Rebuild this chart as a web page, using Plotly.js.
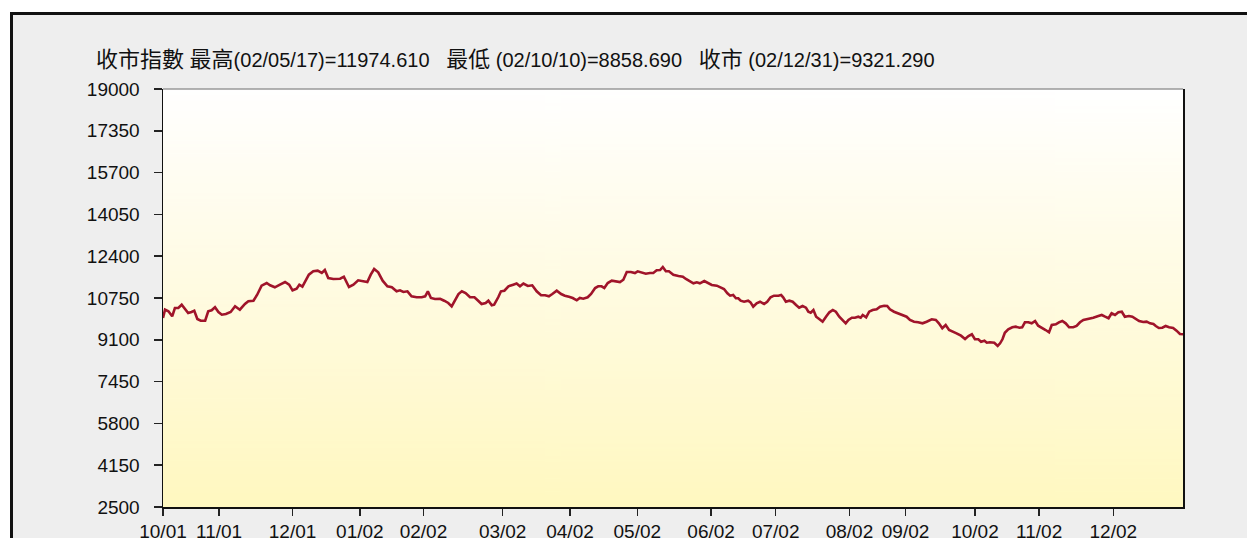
<!DOCTYPE html>
<html>
<head>
<meta charset="utf-8">
<script src="https://cdn.plot.ly/plotly-3.0.1.min.js"></script>
<style>
body{margin:0;background:#fff;overflow:hidden;}
#frame{position:absolute;left:10px;top:12px;width:1400px;height:700px;background:#eeeeee;border-left:3px solid #111;border-top:3px solid #111;}
#chart{position:absolute;left:0;top:0;width:1247px;height:538px;}
</style>
</head>
<body>
<div id="frame"></div>
<div id="chart"></div>
<script>

/* HSI daily close, trading day position vs index level */

const day = [0,0.6,1.6,2.7,3.5,4.5,5.5,6.5,7.4,8.4,9.2,10.1,11.1,12.4,13.3,14.3,15.3,16.3,17.3,18.5,
19.9,21.2,22.6,24.1,25.1,26.6,27.7,29.0,30.5,31.5,32.9,34.4,35.9,37.1,38.1,39.3,40.1,41.0,42.0,42.9,
44.2,45.5,46.7,47.6,48.6,50.1,52.1,53.2,54.7,56.0,57.4,58.9,60.1,61.1,62.1,63.3,64.6,66.0,67.3,68.7,
69.7,70.7,71.9,73.1,74.6,
76.1,77.1,77.9,78.8,80.0,81.5,82.7,83.9,84.9,85.9,86.9,87.9,89.0,90.3,91.6,92.7,93.7,94.9,95.7,96.7,
97.4,98.6,99.4,100.4,101.6,103.0,104.0,105.0,106.0,107.3,108.6,109.9,111.2,112.4,113.5,114.5,115.8,117.1,118.2,119.4,
120.5,121.7,122.6,123.6,124.9,125.9,127.1,128.0,129.0,129.8,130.8,132.0,133.4,134.4,135.4,136.4,137.6,138.8,139.6,140.8,
142.0,143.2,144.2,145.2,146.2,147.0,147.9,148.8,150.1,
151.6,152.9,153.8,155.0,156.0,157.0,157.9,159.2,160.4,161.4,162.9,164.1,165.0,166.0,166.8,167.7,168.5,169.2,169.9,170.9,
172.1,172.8,173.6,174.6,175.6,176.8,177.7,178.7,179.7,181.0,181.8,182.4,183.2,184.2,185.2,186.2,187.1,188.1,189.1,189.8,
190.5,191.3,192.1,193.0,194.0,195.0,196.0,197.0,197.9,198.9,199.9,200.8,201.6,202.6,203.5,204.5,205.2,205.8,206.8,207.7,
208.7,209.9,210.9,212.1,213.0,213.8,215.0,216.3,217.6,218.7,219.7,220.9,222.1,223.4,224.6,
225.1,226.1,227.3,228.2,229.2,230.2,231.2,232.1,233.4,234.7,235.9,236.9,237.9,238.8,239.8,240.6,241.6,242.3,243.2,244.5,
245.5,246.2,246.9,247.6,248.6,249.8,250.8,251.9,252.7,253.5,254.5,255.5,256.5,257.4,258.6,259.6,260.6,261.4,262.6,263.5,
264.5,265.5,266.5,267.7,268.7,269.7,270.7,272.1,273.6,275.1,276.1,277.1,278.1,279.0,280.0,281.0,282.0,282.9,284.1,285.1,
286.1,287.1,288.3,289.3,290.3,291.3,292.0,292.9,293.9,294.9,295.9,297.1,298.1,299.1,300]

const close = [9960,10288,10225,10028,10355,10355,10485,10328,10158,10197,10249,9921,9854,9854,10225,10264,10383,10197,10091,10118,
10197,10422,10288,10513,10620,10643,10880,11236,11342,11251,11172,11275,11381,11275,11054,11117,11275,11196,11433,11670,
11804,11828,11737,11855,11539,11500,11512,11591,11184,11275,11448,11409,11381,11670,11895,11764,11433,11212,11172,11014,
11054,10987,11014,10817,10778,
10778,10817,11014,10750,10710,10722,10643,10553,10422,10643,10908,11014,10947,10778,10778,10643,10513,10553,10643,10462,
10485,10778,11014,11038,11212,11275,11322,11212,11322,11224,11251,11014,10857,10857,10817,10908,11038,10908,10841,10801,
10750,10659,10750,10722,10778,10908,11145,11212,11212,11145,11342,11433,11409,11381,11472,11776,11776,11737,11804,11764,
11709,11737,11737,11843,11855,11974.61,11804,11804,11670,
11618,11591,11500,11393,11330,11369,11330,11421,11330,11263,11236,11156,11105,10935,10841,10868,10738,10738,10643,10604,
10643,10580,10407,10541,10604,10513,10604,10778,10841,10841,10868,10778,10604,10643,10604,10474,10367,10434,10367,10209,
10170,10276,10012,9921,9815,10012,10185,10276,10209,10012,9854,9751,9882,9972,9972,10012,9972,10079,9988,10209,
10276,10304,10407,10446,10434,10304,10209,10146,10079,10012,9882,9815,9791,9751,9815,
9854,9909,9882,9751,9554,9684,9487,9420,9356,9262,9132,9250,9317,9120,9120,9025,9065,8986,9001,8986,
8858.69,8962,9120,9380,9514,9593,9617,9578,9593,9791,9791,9751,9842,9657,9578,9487,9396,9684,9712,9791,
9842,9751,9593,9593,9645,9791,9882,9921,9972,10039,10079,10012,9949,10146,10079,10185,10209,10012,10039,10012,
9909,9842,9803,9815,9751,9724,9645,9566,9578,9645,9593,9566,9460,9329,9321.29]

const tickDay = [0,16.5,38.1,57.9,76.6,99.9,119.7,139.5,161.2,180.2,201.9,218.4,238.8,257.7,279.5]
const tickText = ["10/01","11/01","12/01","01/02","02/02","03/02","04/02","05/02","06/02","07/02","08/02","09/02","10/02","11/02","12/02"]

/* title: chinese words drawn a bit larger than the digits, like the original */

function cjk(s){ return "<span style='font-size:22px'>"+s+"</span>" }

const titleText =
cjk("收市指數")+" "+cjk("最高")+"(02/05/17)=11974.610\u00a0\u00a0\u00a0"+
cjk("最低")+" (02/10/10)=8858.690\u00a0\u00a0\u00a0"+
cjk("收市")+" (02/12/31)=9321.290"

/* plot background gradient (white -> pale yellow) */

function gradientURL(){
let c = document.createElement("canvas")
c.width = 4
c.height = 256
let g = c.getContext("2d")
let grd = g.createLinearGradient(0,0,0,256)
grd.addColorStop(0,"#ffffff")
grd.addColorStop(0.5,"#fffbe0")
grd.addColorStop(1,"#fff8c0")
g.fillStyle = grd
g.fillRect(0,0,4,256)
return c.toDataURL()
}

const font = "'Liberation Sans', Arial, 'Noto Sans CJK TC', sans-serif"

Plotly.newPlot("chart",[{
x:day,
y:close,
type:"scatter",
mode:"lines",
line:{color:"#a0142a",width:2.6},
hoverinfo:"y"
}],{
width:1247,
height:538,
margin:{l:163,r:64,t:89,b:31},
paper_bgcolor:"rgba(0,0,0,0)",
plot_bgcolor:"rgba(0,0,0,0)",
showlegend:false,
font:{family:font,size:19,color:"#111"},
title:{
text:titleText,
font:{family:font,size:20,color:"#111"},
xref:"container",yref:"container",
x:0.077,xanchor:"left",
y:0.888,yanchor:"middle"
},
xaxis:{
range:[0,300],
tickmode:"array",
tickvals:tickDay,
ticktext:tickText,
ticks:"outside",
ticklen:7,
tickwidth:1.5,
tickcolor:"#222",
showgrid:false,
zeroline:false,
showline:true,
linecolor:"#111",
linewidth:1.5
},
yaxis:{
range:[2500,19000],
tick0:2500,
dtick:1650,
tickformat:"d",
ticks:"outside",
ticklen:8,
tickwidth:1.5,
tickcolor:"#222",
ticklabelstandoff:10,
showgrid:false,
zeroline:false,
showline:true,
mirror:true,
linecolor:"#111",
linewidth:1.5
},
shapes:[{
type:"line",xref:"paper",yref:"paper",
x0:0,x1:1,y0:1,y1:1,
line:{color:"#999",width:1.5}
}],
images:[{
source:gradientURL(),
xref:"paper",yref:"paper",
x:0,y:1,sizex:1,sizey:1,
xanchor:"left",yanchor:"top",
sizing:"stretch",
layer:"below"
}]
},{displayModeBar:false,staticPlot:true})

</script>
</body>
</html>
